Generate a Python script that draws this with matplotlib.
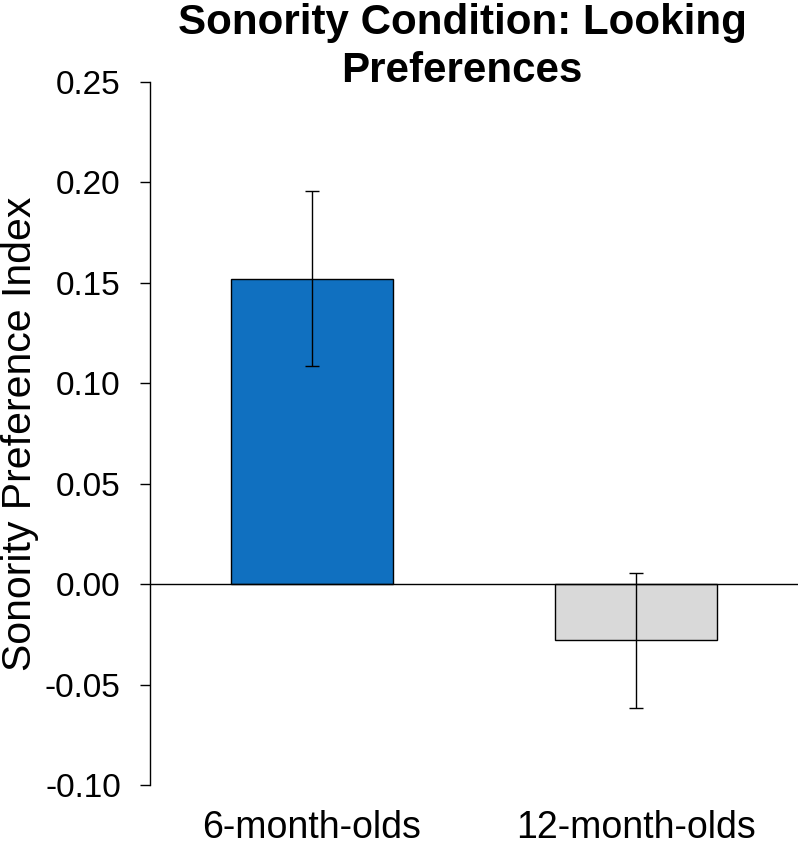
import matplotlib
matplotlib.use("Agg")
import matplotlib.pyplot as plt

groups = ["6-month-olds", "12-month-olds"]
means = [0.152, -0.028]
errors = [0.0435, 0.0335]
colors = ["#1070C0", "#D9D9D9"]
yticks = [-0.10, -0.05, 0.00, 0.05, 0.10, 0.15, 0.20, 0.25]

plt.rcParams['font.family'] = ['Liberation Sans', 'DejaVu Sans']

fig = plt.figure(figsize=(8, 8.47), dpi=100)
ax = fig.add_axes([0.1875, 0.0732, 0.81, 0.830])

x = range(len(groups))
ax.bar(x, means, width=0.5, color=colors, edgecolor="black", linewidth=1, zorder=2)
ax.errorbar(x, means, yerr=errors, fmt="none", ecolor="black", elinewidth=1,
            capsize=5, capthick=1, zorder=3)
ax.axhline(0, color="black", linewidth=1, zorder=4)

ax.set_xlim(-0.5, 1.5)
ax.set_ylim(-0.10, 0.25)
ax.set_yticks(yticks)
ax.set_yticklabels([f"{t:.2f}" for t in yticks])
ax.set_xticks(list(x))
ax.set_xticklabels(groups)

for side in ["top", "right", "bottom"]:
    ax.spines[side].set_visible(False)
ax.spines["left"].set_linewidth(1)

ax.tick_params(axis="y", length=7, width=1, pad=14, labelsize=24)
ax.tick_params(axis="x", length=0, pad=18, labelsize=27)

ax.set_ylabel("Sonority Preference Index", fontsize=29.5, labelpad=4)

# title placed by hand so its two lines sit where the reference has them
fig.text(0.5775, 0.9032, "Sonority Condition: Looking\nPreferences", fontsize=30.3,
         fontweight="bold", ha="center", va="baseline", multialignment="center",
         linespacing=1.27)

fig.savefig("out.png", dpi=100)
